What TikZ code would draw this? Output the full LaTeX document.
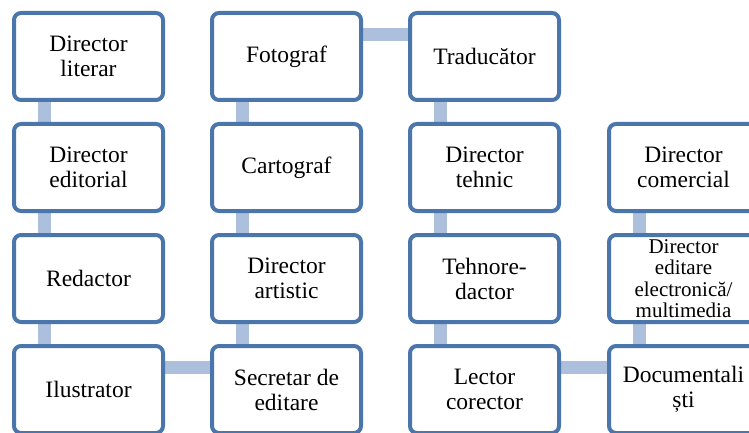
\documentclass[tikz,border=0pt]{standalone}
\usepackage{fontspec}
\setmainfont{Liberation Serif}
\newfontfamily\cardfont{Liberation Serif}
\usetikzlibrary{backgrounds}
\definecolor{boxblue}{RGB}{74,118,172}
\definecolor{linkblue}{RGB}{172,191,221}
\tikzset{
  card/.style={draw=boxblue, line width=4pt, fill=white, rounded corners=7pt,
    minimum width=149pt, minimum height=87pt, align=center, inner sep=0pt,
    font=\cardfont\fontsize{23.5}{25}\selectfont},
  smallcard/.style={card, font=\cardfont\fontsize{21}{21.3}\selectfont},
  link/.style={draw=linkblue, line width=13pt}
}
\begin{document}
\begin{tikzpicture}[x=1pt,y=-1pt]
\clip (0,0) rectangle (749,433);
% column 1
\node[card] (c11) at (88.5,56.5) {Director\\literar};
\node[card] (c12) at (88.5,167.5) {Director\\editorial};
\node[card] (c13) at (88.5,278.5) {Redactor};
\node[card] (c14) at (88.5,389.5) {Ilustrator};
% column 2
\node[card] (c21) at (286.5,56.5) {Fotograf};
\node[card] (c22) at (286.5,167.5) {Cartograf};
\node[card] (c23) at (286.5,278.5) {Director\\artistic};
\node[card] (c24) at (286.5,389.5) {Secretar de\\editare};
% column 3
\node[card] (c31) at (484.5,56.5) {Traducător};
\node[card] (c32) at (484.5,167.5) {Director\\tehnic};
\node[card] (c33) at (484.5,278.5) {Tehnore-\\dactor};
\node[card] (c34) at (484.5,389.5) {Lector\\corector};
% column 4
\node[card] (c42) at (683.5,167.5) {Director\\comercial};
\node[smallcard] (c43) at (683.5,278.5) {Director\\editare\\electronică/\\multimedia};
\node[card] (c44) at (683.5,389.5) {Documentali\\ști};
\begin{scope}[on background layer]
  \draw[link] ([xshift=-44pt]c11.center) -- ([xshift=-44pt]c12.center);
  \draw[link] ([xshift=-44pt]c12.center) -- ([xshift=-44pt]c13.center);
  \draw[link] ([xshift=-44pt]c13.center) -- ([xshift=-44pt]c14.center);
  \draw[link] ([yshift=22pt]c14.center) -- ([yshift=22pt]c24.center);
  \draw[link] ([xshift=-44pt]c24.center) -- ([xshift=-44pt]c23.center);
  \draw[link] ([xshift=-44pt]c23.center) -- ([xshift=-44pt]c22.center);
  \draw[link] ([xshift=-44pt]c22.center) -- ([xshift=-44pt]c21.center);
  \draw[link] ([yshift=22pt]c21.center) -- ([yshift=22pt]c31.center);
  \draw[link] ([xshift=-44pt]c31.center) -- ([xshift=-44pt]c32.center);
  \draw[link] ([xshift=-44pt]c32.center) -- ([xshift=-44pt]c33.center);
  \draw[link] ([xshift=-44pt]c33.center) -- ([xshift=-44pt]c34.center);
  \draw[link] ([yshift=22pt]c34.center) -- ([yshift=22pt]c44.center);
  \draw[link] ([xshift=-44pt]c44.center) -- ([xshift=-44pt]c43.center);
  \draw[link] ([xshift=-44pt]c43.center) -- ([xshift=-44pt]c42.center);
\end{scope}
\end{tikzpicture}
\end{document}
